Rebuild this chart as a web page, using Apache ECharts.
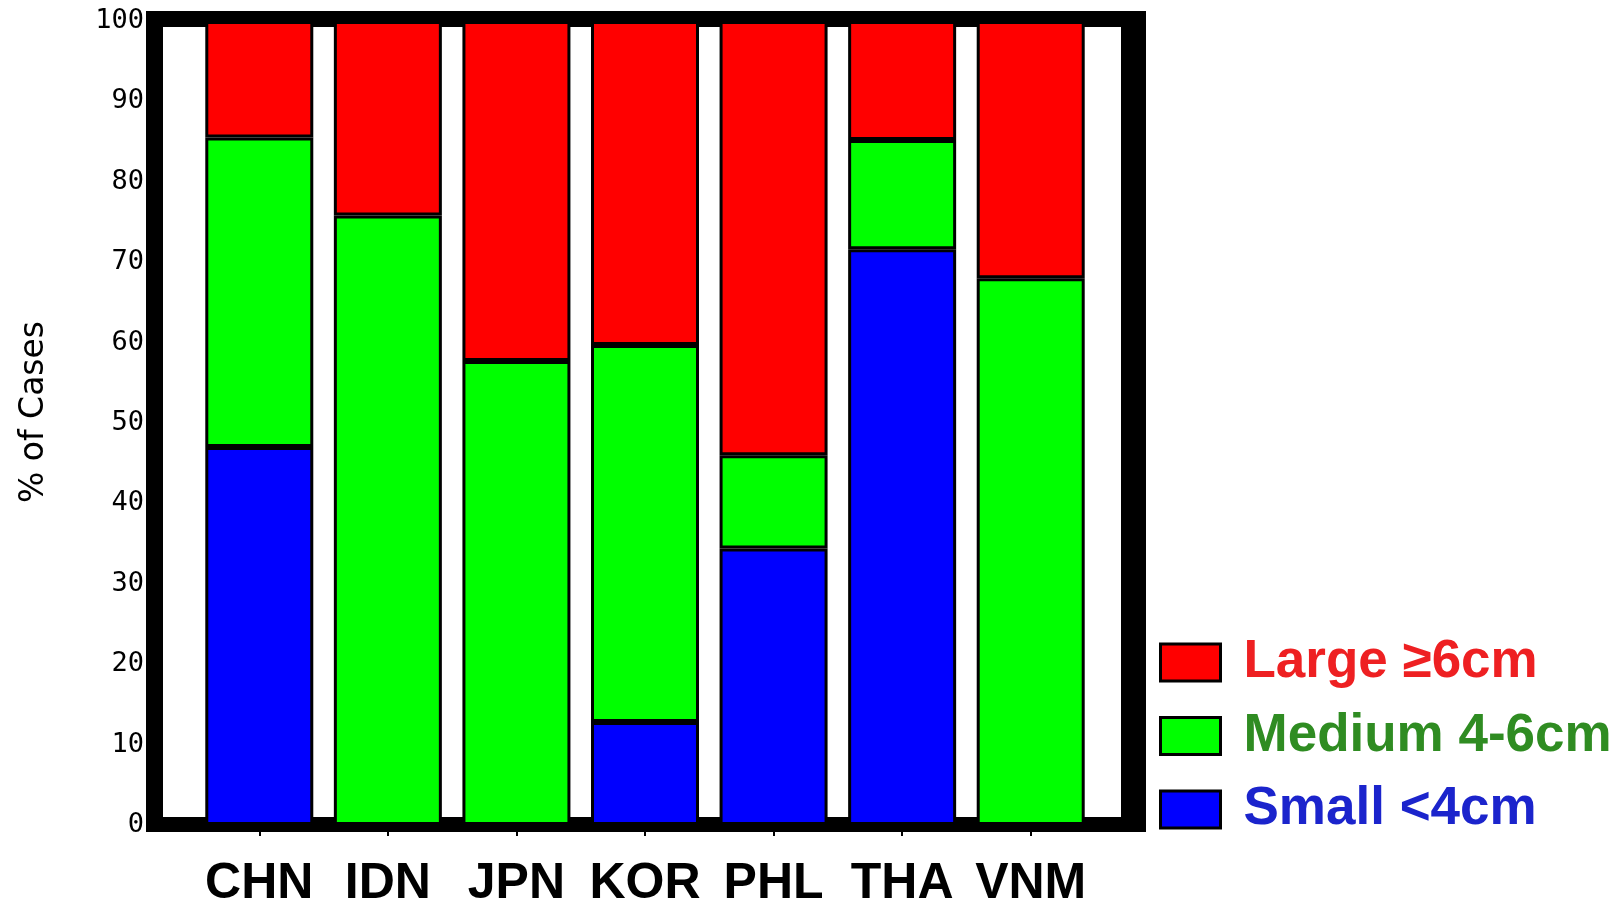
<!DOCTYPE html>
<html>
<head>
<meta charset="utf-8">
<script src="https://cdn.jsdelivr.net/npm/echarts@6/dist/echarts.min.js"></script>
<style>
    html, body { margin: 0; padding: 0; background: #fff; }
    #main { width: 1624px; height: 904px; }
</style>
</head>
<body>
<div id="main"></div>
<script>
// data (% of cases)
const categories = ['CHN', 'IDN', 'JPN', 'KOR', 'PHL', 'THA', 'VNM']
const smallVals  = [47.0, 0, 0, 12.8, 34.4, 71.6, 0]
const mediumVals = [38.5, 75.8, 57.7, 46.9, 11.6, 13.6, 68.0]
const largeVals  = [14.5, 24.2, 42.3, 40.3, 54.0, 14.8, 32.0]
const yTicks = [0, 10, 20, 30, 40, 50, 60, 70, 80, 90, 100]

const names = ['Large \u22656cm', 'Medium 4-6cm', 'Small <4cm']
const textColors = ['#ee2022', '#2f8c22', '#1b24cc']

const chart = echarts.init(document.getElementById('main'))

function barSeries(name, data, color) {
    return {
        name: name,
        type: 'bar',
        stack: 'size',
        data: data,
        barWidth: 108,
        itemStyle: {
            color: color,
            borderColor: '#000',
            borderWidth: 3
        }
    }
}

const option = {
    animation: false,
    backgroundColor: '#fff',
    // thick black frame round the plot
    graphic: [
        { type: 'rect', z: -10, shape: { x: 146, y: 11, width: 1000, height: 821 }, style: { fill: '#000' } },
        { type: 'rect', z: -9, shape: { x: 163, y: 27, width: 958, height: 790 }, style: { fill: '#fff' } }
    ],
    grid: {
        left: 195,
        top: 21,
        width: 900,
        height: 804,
        outerBoundsMode: 'none'
    },
    legend: {
        orient: 'vertical',
        left: 1154,
        top: 631,
        itemWidth: 60,
        itemHeight: 37,
        itemGap: 20.5,
        icon: 'rect',
        itemStyle: { borderColor: '#000', borderWidth: 3 },
        textStyle: {
            fontFamily: 'Liberation Sans',
            fontWeight: 'bold',
            fontSize: 53,
            padding: [0, 0, 0, 18]
        },
        data: names.map((n, i) => ({ name: n, textStyle: { color: textColors[i] } }))
    },
    xAxis: {
        type: 'category',
        data: categories,
        axisLine: { show: false },
        axisTick: { show: true, alignWithLabel: true, length: 11, lineStyle: { color: '#000', width: 2 } },
        axisLabel: {
            interval: 0,
            margin: 34,
            color: '#000',
            fontFamily: 'Liberation Sans',
            fontWeight: 'bold',
            fontSize: 50
        }
    },
    yAxis: {
        type: 'value',
        min: 0,
        max: 100,
        interval: 10,
        name: '% of Cases',
        nameLocation: 'middle',
        nameGap: 144,
        nameRotate: 90,
        nameTextStyle: {
            color: '#000',
            fontFamily: 'DejaVu Sans',
            fontSize: 33,
            padding: [0, 0, 0, 22]
        },
        axisLine: { show: false },
        axisTick: { show: false },
        splitLine: { show: false },
        axisLabel: {
            margin: 51,
            color: '#000',
            fontFamily: 'DejaVu Sans Mono',
            fontSize: 27,
            formatter: v => yTicks.includes(v) ? String(v) : ''
        }
    },
    series: [
        barSeries(names[2], smallVals, '#0000ff'),
        barSeries(names[1], mediumVals, '#00ff00'),
        barSeries(names[0], largeVals, '#ff0000')
    ]
}

chart.setOption(option)
</script>
</body>
</html>
